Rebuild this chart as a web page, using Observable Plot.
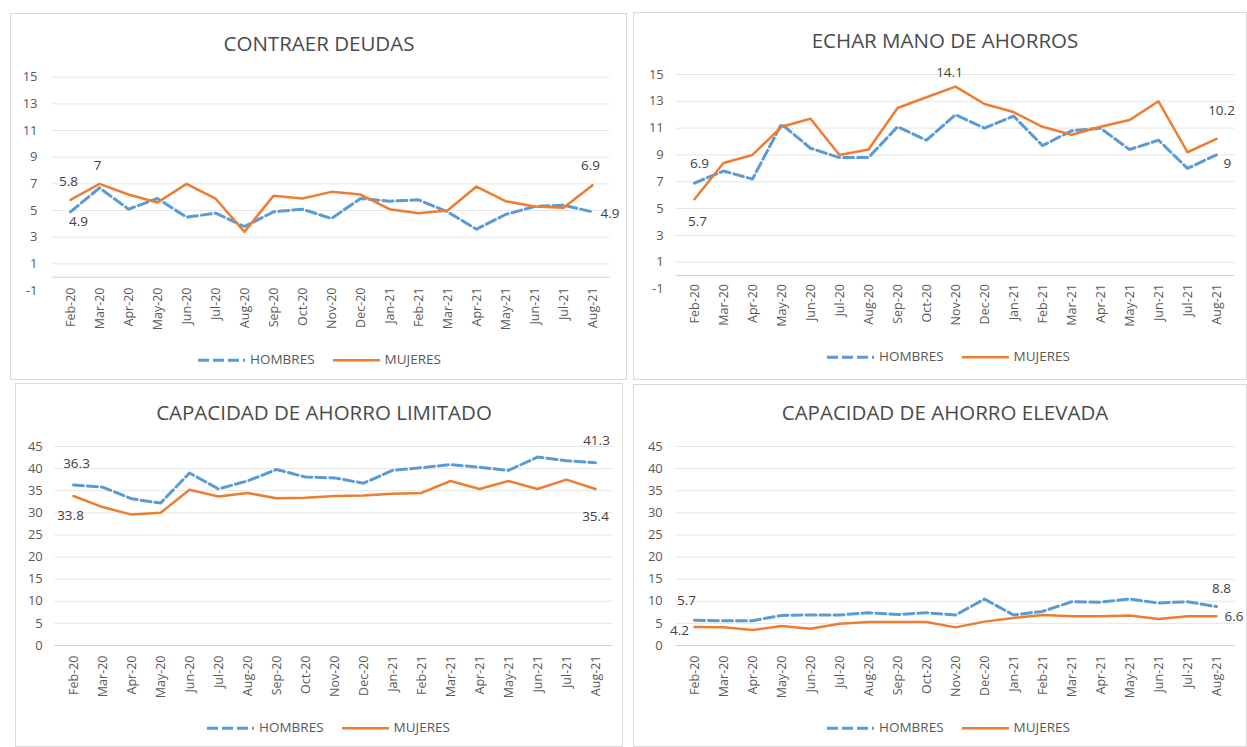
<!DOCTYPE html>
<html>
<head>
<meta charset="utf-8">
<script src="https://cdn.jsdelivr.net/npm/d3@7"></script>
<script src="https://cdn.jsdelivr.net/npm/@observablehq/plot@0.6"></script>
<style>
  body { margin: 0; background: #fff; font-family: "Open Sans", sans-serif; }
  #root { position: relative; width: 1247px; height: 747px; overflow: hidden; background: #fff; }
  .panel { position: absolute; border: 1px solid #d9d9d9; box-sizing: border-box; }
  .title { position: absolute; transform: translate(-50%, -50%); white-space: nowrap; font-size: 20.5px; line-height: 1; color: #4a4a4a; }
  .legend { position: absolute; transform: translateY(-50%); display: flex; align-items: center; white-space: nowrap; font-size: 13.5px; color: #595959; line-height: 1; }
  .legend svg { display: block; }
  .plotwrap { position: absolute; }
</style>
</head>
<body>
<div id="root"></div>
<script>
// ---------- DATA ----------
const months = ["Feb-20","Mar-20","Apr-20","May-20","Jun-20","Jul-20","Aug-20","Sep-20","Oct-20","Nov-20","Dec-20",
                "Jan-21","Feb-21","Mar-21","Apr-21","May-21","Jun-21","Jul-21","Aug-21"];
const seriesNames = ["HOMBRES", "MUJERES"];

const titles = ["CONTRAER DEUDAS", "ECHAR MANO DE AHORROS", "CAPACIDAD DE AHORRO LIMITADO", "CAPACIDAD DE AHORRO ELEVADA"];

const deudasHombres   = [4.9, 6.7, 5.1, 5.9, 4.5, 4.8, 3.8, 4.9, 5.1, 4.4, 5.9, 5.7, 5.8, 4.9, 3.6, 4.7, 5.3, 5.4, 4.9];
const deudasMujeres   = [5.8, 7.0, 6.2, 5.6, 7.0, 5.9, 3.4, 6.1, 5.9, 6.4, 6.2, 5.1, 4.8, 5.0, 6.8, 5.7, 5.3, 5.2, 6.9];

const ahorrosHombres  = [6.9, 7.8, 7.2, 11.3, 9.5, 8.8, 8.8, 11.1, 10.1, 12.0, 11.0, 11.9, 9.7, 10.8, 11.0, 9.4, 10.1, 8.0, 9.0];
const ahorrosMujeres  = [5.7, 8.4, 9.0, 11.1, 11.7, 9.0, 9.4, 12.5, 13.3, 14.1, 12.8, 12.2, 11.1, 10.5, 11.1, 11.6, 13.0, 9.2, 10.2];

const limitadoHombres = [36.3, 35.8, 33.2, 32.2, 39.0, 35.4, 37.2, 39.8, 38.1, 37.9, 36.7, 39.6, 40.2, 40.9, 40.3, 39.6, 42.6, 41.8, 41.3];
const limitadoMujeres = [33.8, 31.3, 29.6, 30.0, 35.2, 33.7, 34.5, 33.3, 33.4, 33.8, 33.9, 34.3, 34.5, 37.2, 35.4, 37.2, 35.4, 37.5, 35.4];

const elevadaHombres  = [5.7, 5.6, 5.6, 6.8, 6.9, 6.9, 7.4, 7.0, 7.4, 6.9, 10.5, 6.9, 7.7, 9.9, 9.8, 10.5, 9.6, 9.9, 8.8];
const elevadaMujeres  = [4.2, 4.1, 3.5, 4.4, 3.8, 4.9, 5.3, 5.3, 5.3, 4.1, 5.4, 6.2, 6.9, 6.6, 6.6, 6.8, 6.0, 6.6, 6.6];

const ticksSmall = [-1, 1, 3, 5, 7, 9, 11, 13, 15];
const ticksLarge = [0, 5, 10, 15, 20, 25, 30, 35, 40, 45];

// ---------- STYLE ----------
const BLUE = "#5b9bd5", ORANGE = "#ed7d31";
const root = document.getElementById("root");

function el(tag, cls, css) {
  const e = document.createElement(tag);
  if (cls) e.className = cls;
  Object.assign(e.style, css || {});
  return e;
}

function swatch(color, dashed) {
  const ns = "http://www.w3.org/2000/svg";
  const s = document.createElementNS(ns, "svg");
  s.setAttribute("width", 47); s.setAttribute("height", 6);
  const l = document.createElementNS(ns, "line");
  l.setAttribute("x1", 0); l.setAttribute("x2", 47); l.setAttribute("y1", 3); l.setAttribute("y2", 3);
  l.setAttribute("stroke", color); l.setAttribute("stroke-width", dashed ? 3 : 2.5);
  if (dashed) l.setAttribute("stroke-dasharray", "11,4");
  s.appendChild(l);
  return s;
}

function drawPanel(cfg) {
  root.appendChild(el("div", "panel", {left: cfg.box[0] + "px", top: cfg.box[1] + "px",
    width: (cfg.box[2] - cfg.box[0]) + "px", height: (cfg.box[3] - cfg.box[1]) + "px"}));
  const t = el("div", "title", {left: cfg.titlePos[0] + "px", top: cfg.titlePos[1] + "px"});
  t.textContent = cfg.title;
  root.appendChild(t);

  const hom = months.map((m, i) => ({m, v: cfg.hombres[i]}));
  const muj = months.map((m, i) => ({m, v: cfg.mujeres[i]}));

  const labelMarks = cfg.labels.map(L => {
    const src = L.s === "h" ? hom : muj;
    return Plot.text([src[L.i]], {x: "m", y: "v", text: d => String(d.v), dx: L.dx, dy: L.dy,
      textAnchor: L.anchor || "middle", fill: "#3f3f3f", fontSize: 13.5});
  });

  const [sl, st, sw, sh] = cfg.svg;
  const chart = Plot.plot({
    width: sw, height: sh,
    marginLeft: cfg.x0 - sl, marginRight: sl + sw - cfg.x1,
    marginTop: cfg.yTop - st, marginBottom: st + sh - cfg.yBot,
    style: {fontFamily: "Open Sans, sans-serif", color: "#595959", background: "transparent", overflow: "visible"},
    x: {type: "point", domain: months, padding: 0.5, label: null},
    y: {domain: cfg.yDomain, nice: false, label: null},
    marks: [
      Plot.gridY(cfg.grid, {stroke: "#e6e6e6", strokeOpacity: 1, strokeWidth: 1}),
      Plot.ruleY([0], {stroke: "#d0d0d0", strokeWidth: 1}),
      Plot.axisY(cfg.ticks, {tickSize: 0, tickPadding: cfg.yPad, fontSize: 13, label: null, tickFormat: d => String(d)}),
      Plot.axisX({tickRotate: -90, tickSize: 0, tickPadding: cfg.xPad, fontSize: 12.5, label: null}),
      Plot.line(hom, {x: "m", y: "v", stroke: BLUE, strokeWidth: 3, strokeDasharray: "10,4"}),
      Plot.line(muj, {x: "m", y: "v", stroke: ORANGE, strokeWidth: 2.5}),
      ...labelMarks
    ]
  });
  const wrap = el("div", "plotwrap", {left: sl + "px", top: st + "px"});
  wrap.appendChild(chart);
  root.appendChild(wrap);

  const lg = el("div", "legend", {left: cfg.legendPos[0] + "px", top: cfg.legendPos[1] + "px"});
  lg.appendChild(swatch(BLUE, true));
  const a = el("span", null, {marginLeft: "5px", marginRight: "18px"}); a.textContent = seriesNames[0];
  lg.appendChild(a);
  lg.appendChild(swatch(ORANGE, false));
  const b = el("span", null, {marginLeft: "5px"}); b.textContent = seriesNames[1];
  lg.appendChild(b);
  root.appendChild(lg);
}

drawPanel({
  box: [10, 13, 627, 380], title: titles[0], titlePos: [319, 43],
  hombres: deudasHombres, mujeres: deudasMujeres,
  svg: [10, 50, 616, 300], x0: 52.0, x1: 609.7, yTop: 76.7, yBot: 290,
  yDomain: [-1, 15], ticks: ticksSmall, grid: ticksSmall.filter(d => d > 0), yPad: 15, xPad: -3,
  legendPos: [198, 360],
  labels: [
    {s: "m", i: 0, dx: -2, dy: -18},
    {s: "m", i: 1, dx: -2, dy: -18},
    {s: "h", i: 0, dx: 8, dy: 10},
    {s: "m", i: 18, dx: -2, dy: -20},
    {s: "h", i: 18, dx: 8, dy: 2, anchor: "start"}
  ]
});

drawPanel({
  box: [633, 12, 1247, 380], title: titles[1], titlePos: [945, 40],
  hombres: ahorrosHombres, mujeres: ahorrosMujeres,
  svg: [634, 50, 613, 300], x0: 675.3, x1: 1234.7, yTop: 74, yBot: 288.5,
  yDomain: [-1, 15], ticks: ticksSmall, grid: ticksSmall.filter(d => d > 0), yPad: 12, xPad: -5,
  legendPos: [827, 357],
  labels: [
    {s: "h", i: 0, dx: 5, dy: -19},
    {s: "m", i: 0, dx: 3, dy: 22},
    {s: "m", i: 9, dx: -6, dy: -14},
    {s: "m", i: 18, dx: 5, dy: -28},
    {s: "h", i: 18, dx: 7, dy: 9, anchor: "start"}
  ]
});

drawPanel({
  box: [15, 383, 623, 747], title: titles[2], titlePos: [324, 412],
  hombres: limitadoHombres, mujeres: limitadoMujeres,
  svg: [15, 425, 607, 290], x0: 54.3, x1: 612.7, yTop: 446, yBot: 645,
  yDomain: [0, 45], ticks: ticksLarge, grid: ticksLarge.filter(d => d > 0), yPad: 12, xPad: 10,
  legendPos: [207, 728],
  labels: [
    {s: "h", i: 0, dx: 3, dy: -21},
    {s: "m", i: 0, dx: -3, dy: 20},
    {s: "h", i: 18, dx: 1, dy: -22},
    {s: "m", i: 18, dx: 0, dy: 28}
  ]
});

drawPanel({
  box: [633, 384, 1247, 747], title: titles[3], titlePos: [945, 412],
  hombres: elevadaHombres, mujeres: elevadaMujeres,
  svg: [634, 425, 613, 290], x0: 675.3, x1: 1234.7, yTop: 446, yBot: 645,
  yDomain: [0, 45], ticks: ticksLarge, grid: ticksLarge.filter(d => d > 0), yPad: 13, xPad: 10,
  legendPos: [827, 728],
  labels: [
    {s: "h", i: 0, dx: -8, dy: -20},
    {s: "m", i: 0, dx: -15, dy: 4},
    {s: "h", i: 18, dx: 5, dy: -18},
    {s: "m", i: 18, dx: 8, dy: 0, anchor: "start"}
  ]
});
</script>
</body>
</html>
